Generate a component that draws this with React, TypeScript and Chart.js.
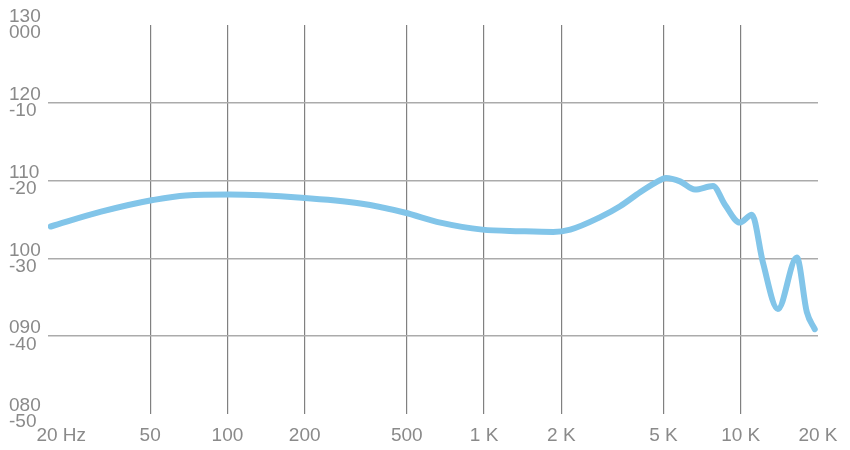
import React, { useEffect, useRef } from "react";
import { Chart, registerables } from "chart.js";

Chart.register(...registerables);

// Frequency response curve (Hz, dB)
const frequencies = [
  20.5, 32.2, 51.2, 68.8, 102, 194.5, 330, 489, 676, 984, 1384, 1859, 2166,
  2834, 3388, 4054, 4636, 5116, 5800, 6634, 7796, 8680, 9928, 11052, 12196,
  13952, 16540, 18088, 19432,
];
const levels = [
  104.1, 106.0, 107.5, 108.1, 108.2, 107.8, 107.05, 105.9, 104.6, 103.7, 103.5,
  103.4, 103.7, 105.3, 106.7, 108.5, 109.7, 110.35, 109.9, 108.85, 109.3, 106.9,
  104.6, 105.6, 99.5, 93.5, 100.1, 93.1, 90.9,
];

const xTickValues = [20, 50, 100, 200, 500, 1000, 2000, 5000, 10000, 20000];
const xTickLabels = [
  "\u00A0\u00A0\u00A0\u00A0\u00A020 Hz",
  "50",
  "100",
  "200",
  "500",
  "1 K",
  "2 K",
  "5 K",
  "10 K",
  "20 K",
];
const yTickValues = [80, 90, 100, 110, 120, 130];
const yTickLabels = [
  ["080", "-50"],
  ["090", "-40"],
  ["100", "-30"],
  ["110", "-20"],
  ["120", "-10"],
  ["130", "000"],
];

const FONT = "'Liberation Sans', Arial, Helvetica, sans-serif";

export default function App() {
  const canvasRef = useRef<HTMLCanvasElement | null>(null);

  useEffect(() => {
    if (!canvasRef.current) return;
    const points = frequencies.map((f, i) => ({ x: f, y: levels[i] }));
    const chart = new Chart(canvasRef.current, {
      type: "line",
      data: {
        datasets: [
          {
            data: points,
            borderColor: "#82c5e9",
            borderWidth: 6,
            pointRadius: 0,
            fill: false,
            cubicInterpolationMode: "monotone",
            borderCapStyle: "round",
            borderJoinStyle: "round",
          },
        ],
      },
      options: {
        animation: false,
        responsive: false,
        maintainAspectRatio: false,
        layout: { padding: { left: 8, top: 25, right: 32, bottom: 0 } },
        plugins: {
          legend: { display: false },
          tooltip: { enabled: false },
        },
        scales: {
          x: {
            type: "logarithmic",
            min: 20,
            max: 20000,
            afterBuildTicks: (scale: any) => {
              scale.ticks = xTickValues.map((v) => ({ value: v }));
            },
            afterFit: (scale: any) => {
              scale.height = 36;
            },
            border: { display: false },
            grid: {
              drawTicks: false,
              lineWidth: 1.2,
              color: (ctx: any) => {
                const v = ctx.tick ? ctx.tick.value : null;
                return v === 20 || v === 20000 ? "rgba(0,0,0,0)" : "#808080";
              },
            },
            ticks: {
              autoSkip: false,
              maxRotation: 0,
              minRotation: 0,
              padding: 10,
              color: "#8a8a8a",
              font: { family: FONT, size: 19 },
              callback: (value: any) => {
                const i = xTickValues.indexOf(Number(value));
                return i >= 0 ? xTickLabels[i] : "";
              },
            },
          },
          y: {
            type: "linear",
            min: 80,
            max: 130,
            afterBuildTicks: (scale: any) => {
              scale.ticks = yTickValues.map((v) => ({ value: v }));
            },
            afterFit: (scale: any) => {
              scale.width = 39;
            },
            border: { display: false },
            grid: {
              drawTicks: false,
              lineWidth: 1.5,
              color: (ctx: any) => {
                const v = ctx.tick ? ctx.tick.value : null;
                return v === 80 || v === 130 ? "rgba(0,0,0,0)" : "#ababab";
              },
            },
            ticks: {
              crossAlign: "far",
              padding: 0,
              color: "#8a8a8a",
              font: { family: FONT, size: 19, lineHeight: 0.85 },
              callback: (value: any) => {
                const i = yTickValues.indexOf(Number(value));
                return i >= 0 ? yTickLabels[i] : "";
              },
            },
          },
        },
      } as any,
    });
    return () => chart.destroy();
  }, []);

  return (
    <div style={{ position: "absolute", left: 0, top: 0, width: 850, height: 450, background: "#fff" }}>
      <canvas ref={canvasRef} width={850} height={450} />
    </div>
  );
}
